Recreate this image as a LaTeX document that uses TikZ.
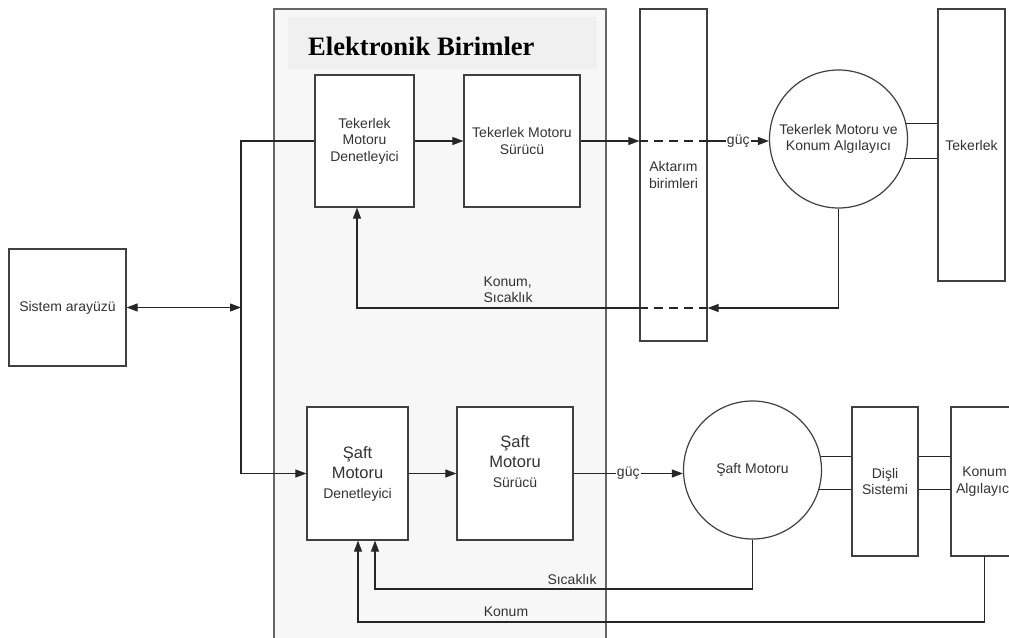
\documentclass[tikz,border=0pt]{standalone}
\usepackage{fontspec}
\setmainfont{Liberation Sans}
\newfontfamily\baslikfont{Liberation Serif}
\usetikzlibrary{arrows.meta}

\begin{document}
\begin{tikzpicture}[x=1pt,y=-1pt,
  every node/.style={text=black!80,font=\fontsize{14}{16.5}\selectfont,align=center},
  blok/.style={draw=black!75,line width=1.2pt,fill=white,inner sep=0pt},
  teker/.style={blok,circle,minimum size=138pt},
  ok/.style={-{Triangle[length=11pt,width=8pt]}},
  hat/.style={line width=1.1pt,draw=black!85},
  kesik/.style={hat,dash pattern=on 9pt off 6pt}]
  \useasboundingbox (0,0) rectangle (1009,637);
  % elektronik birimler paneli
  \draw[draw=black!60,line width=1.4pt,fill=black!3] (274,9) rectangle (606,660);
  \fill[black!6] (288,17) rectangle (597,69);
  \node[anchor=base west,inner sep=0pt,text=black,font=\baslikfont\bfseries\fontsize{26.6}{30}\selectfont] (baslik) at (308,55) {Elektronik Birimler};

  % tekerlek kolu
  \node[blok,minimum width=99pt,minimum height=132pt] (tmd) at (364.5,141) {Tekerlek\\Motoru\\Denetleyici};
  \node[blok,minimum width=116pt,minimum height=132pt] (tms) at (522,141) {Tekerlek Motoru\\Sürücü};
  \node[blok,minimum width=67pt,minimum height=332pt] (akt) at (673.5,175) {Aktarım\\birimleri};
  \node[teker] (tmk) at (838.5,139) {Tekerlek Motoru ve\\Konum Algılayıcı};
  \node[blok,minimum width=67pt,minimum height=272pt] (tek) at (971.5,145) {Tekerlek};
  \node[blok,minimum width=117pt,minimum height=117pt] (sis) at (67.5,307.5) {Sistem arayüzü};

  % şaft kolu
  \node[blok,minimum width=101pt,minimum height=133pt,font=\fontsize{16.5}{20}\selectfont] (smd) at (357.5,473.5) {Şaft\\Motoru\\{\fontsize{14}{16}\selectfont Denetleyici}};
  \node[blok,minimum width=116pt,minimum height=133pt] (sms) at (515,473.5) {};
  \node[font=\fontsize{16.5}{20}\selectfont] (smst) at (515,462) {Şaft\\Motoru\\{\fontsize{14}{16}\selectfont Sürücü}};
  \node[teker] (smo) at (752.5,470) {Şaft Motoru};
  \node[blok,minimum width=66pt,minimum height=149pt] (dis) at (885,481.5) {Dişli\\Sistemi};
  \node[blok,minimum width=67pt,minimum height=149pt] (kal) at (984.5,481.5) {Konum\\Algılayıcı};

  % dagitim hatti
  \coordinate (dt) at (241,141);
  \coordinate (dm) at (241,307.5);
  \coordinate (da) at (241,473.5);
  \draw[hat] (tmd.west) -- (dt) -- (da);
  \draw[hat,ok] (da) -- (smd.west);
  \draw[hat,{Triangle[length=11pt,width=8pt]}-{Triangle[length=11pt,width=8pt]}] (sis) -- (dm);

  \draw[hat,ok] (tmd) -- (tms);
  \draw[hat,ok] (tms.east) -- (tms.east -| akt.west);
  \draw[kesik] (tms.east -| akt.west) -- (tms.east -| akt.east);
  \draw[hat,ok] (tms.east -| akt.east) -- node[fill=white,inner sep=1pt] (guc1) {güç} (tms.east -| tmk.west);
  \draw[hat] (tmk.13) -- (tmk.13 -| tek.west);
  \draw[hat] (tmk.-16) -- (tmk.-16 -| tek.west);

  \coordinate (kt) at (357,308);
  \draw[hat,ok] (tmk.south) |- (akt.east |- kt);
  \draw[kesik] (akt.east |- kt) -- (akt.west |- kt);
  \draw[hat,ok] (akt.west |- kt) -- (kt) -- (kt |- tmd.south);
  \node[anchor=west,align=left] (ks) at (480,289.5) {Konum,\\Sıcaklık};

  \draw[hat,ok] (smd) -- (sms);
  \draw[hat,ok] (sms.east) -- node[fill=white,inner sep=1pt] (guc2) {güç} (sms.east -| smo.west);
  \draw[hat] (smo.11) -- (smo.11 -| dis.west);
  \draw[hat] (smo.-16) -- (smo.-16 -| dis.west);
  \draw[hat] (dis.east |- smo.11) -- (kal.west |- smo.11);
  \draw[hat] (dis.east |- smo.-16) -- (kal.west |- smo.-16);

  \coordinate (st) at (375,589);
  \draw[hat,ok] (smo.south) |- (st) -- (st |- smd.south);
  \node (sc) at (572,579) {Sıcaklık};
  \coordinate (kn) at (358,622);
  \draw[hat,ok] (kal.south) |- (kn) -- (kn |- smd.south);
  \node (kon) at (506,612) {Konum};
\end{tikzpicture}
\end{document}
